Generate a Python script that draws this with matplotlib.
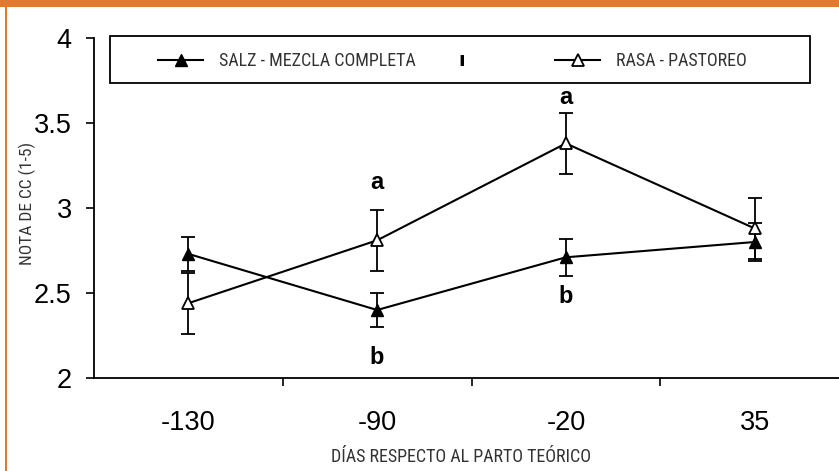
import matplotlib
matplotlib.use("Agg")
import matplotlib.pyplot as plt
from matplotlib.patches import Rectangle
from matplotlib import font_manager

# ---- data ----
days = ["-130", "-90", "-20", "35"]
salz_mean = [2.73, 2.40, 2.71, 2.80]
salz_err = [0.10, 0.10, 0.11, 0.11]
rasa_mean = [2.44, 2.81, 3.38, 2.88]
rasa_err = [0.18, 0.18, 0.18, 0.18]
salz_label = "SALZ - MEZCLA COMPLETA"
rasa_label = "RASA - PASTOREO"
letters = [("a", 1, 3.15), ("b", 1, 2.12), ("a", 2, 3.65), ("b", 2, 2.48)]
y_ticks = [2, 2.5, 3, 3.5, 4]
y_tick_labels = ["2", "2.5", "3", "3.5", "4"]

names = {f.name for f in font_manager.fontManager.ttflist}
cond = None
for cand in ["Liberation Sans Narrow", "Roboto Condensed", "DejaVu Sans Condensed", "Open Sans Condensed"]:
    if cand in names:
        cond = cand
        break
if cond is None:
    cond = "Roboto"

W, H = 839, 471
fig = plt.figure(figsize=(W / 100, H / 100), dpi=100)
fig.patch.set_facecolor("white")

orange = "#E07A30"
# decorative frame
fig.patches.append(Rectangle((0, 1 - 7 / H), 1, 7 / H, transform=fig.transFigure,
                             facecolor=orange, edgecolor="none", zorder=0))
fig.patches.append(Rectangle((5 / W, 0), 2.2 / W, 1, transform=fig.transFigure,
                             facecolor=orange, edgecolor="none", zorder=0))

ax = fig.add_axes([94 / W, 1 - 378 / H, (849 - 94) / W, (378 - 38) / H])
x = [i + 0.5 for i in range(len(days))]

ax.errorbar(x, salz_mean, yerr=salz_err, fmt="none", ecolor="black",
            elinewidth=1.3, capsize=4.8, capthick=1.3, zorder=2)
ax.errorbar(x, rasa_mean, yerr=rasa_err, fmt="none", ecolor="black",
            elinewidth=1.3, capsize=4.8, capthick=1.3, zorder=2)
l1, = ax.plot(x, salz_mean, color="black", lw=1.5, marker="^", ms=8,
              mfc="black", mec="black", zorder=3)
l2, = ax.plot(x, rasa_mean, color="black", lw=1.5, marker="^", ms=8,
              mfc="white", mec="black", mew=1.3, zorder=3)

for t, i, yv in letters:
    ax.text(x[i], yv, t, ha="center", va="center", fontsize=17,
            fontweight="bold", family="Liberation Sans")

ax.set_xlim(0, 4)
ax.set_ylim(2, 4)
ax.set_xticks(x)
ax.set_xticklabels(days, family="Liberation Sans", fontsize=19.5)
ax.set_xticks([1, 2, 3], minor=True)
ax.set_yticks(y_ticks)
ax.set_yticklabels(y_tick_labels, family="Liberation Sans", fontsize=19.5)
ax.tick_params(axis="x", which="major", length=0, pad=23)
ax.tick_params(axis="x", which="minor", length=6, width=1.2, direction="out")
ax.tick_params(axis="y", length=6, width=1.2, pad=10)
for s in ["top", "right"]:
    ax.spines[s].set_visible(False)
for s in ["left", "bottom"]:
    ax.spines[s].set_linewidth(1.3)

fig.text(27 / W, 1 - 203 / H, "NOTA DE CC (1-5)", rotation=90, ha="center",
         va="center", family=cond, fontsize=12.5, color="#333333")
fig.text(461 / W, 1 - 457 / H, "DÍAS RESPECTO AL PARTO TEÓRICO", ha="center",
         va="center", family=cond, fontsize=13, color="#333333")

# legend box
fig.patches.append(Rectangle((110 / W, 1 - 83 / H), 700 / W, 47 / H,
                             transform=fig.transFigure, facecolor="white",
                             edgecolor="black", lw=1.3, zorder=1))
kw = dict(loc="center left", frameon=False, borderpad=0, borderaxespad=0,
          handlelength=2.5, handletextpad=0.9, numpoints=1,
          prop={"family": cond, "size": 13}, labelcolor="#333333")
leg1 = fig.legend([l1], [salz_label], bbox_to_anchor=(158 / W, 1 - 61 / H), **kw)
leg2 = fig.legend([l2], [rasa_label], bbox_to_anchor=(555 / W, 1 - 61 / H), **kw)
fig.text(462 / W, 1 - 61 / H, "ı", ha="center", va="center", fontsize=14,
         fontweight="bold", family="DejaVu Sans")

fig.savefig("out.png", dpi=100)
